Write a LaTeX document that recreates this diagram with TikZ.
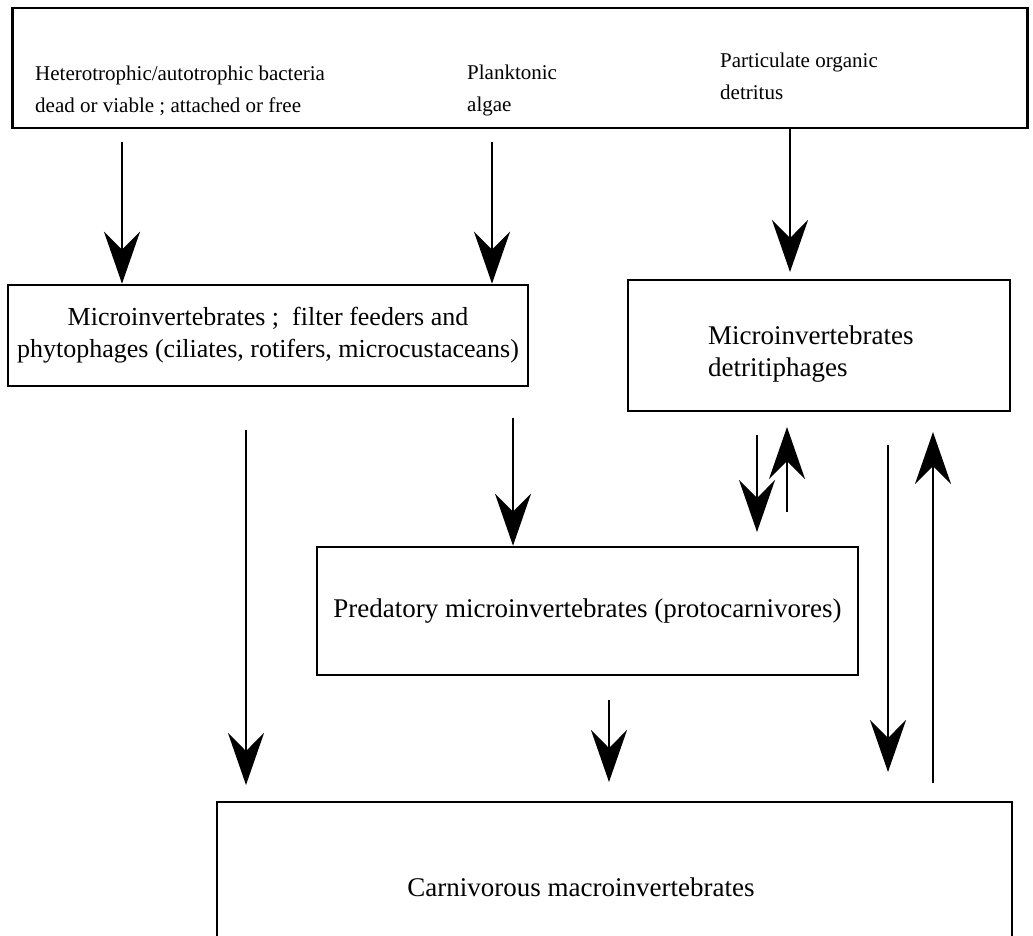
\documentclass[tikz,border=0pt]{standalone}
\usepackage{fontspec}
\setmainfont{Liberation Serif}
\usetikzlibrary{arrows.meta}

\begin{document}
\begin{tikzpicture}[
  x=1pt, y=-1pt,
  box/.style={draw, line width=2.6pt, inner sep=0pt, align=center,
    font=\fontsize{27}{32}\selectfont},
  srctext/.style={anchor=west, align=left, inner sep=0pt,
    font=\fontsize{21}{32}\selectfont},
  boxtext/.style={inner sep=0pt, align=left, font=\fontsize{27}{32}\selectfont},
  feed/.style={line width=2.6pt, -{Stealth[length=52pt, width=36pt, inset=18pt]}},
  thinfeed/.style={feed, line width=1.8pt}
]
\useasboundingbox (0,0) rectangle (1033,935);
\clip (0,0) rectangle (1033,935);

% food sources
\node[box, minimum width=1015pt, minimum height=120pt] (src) at (520,68) {};
\node[srctext] (bact) at (35,91) {Heterotrophic/autotrophic bacteria\\dead or viable ; attached or free};
\node[srctext] (algae) at (467,90) {Planktonic\\algae};
\node[srctext] (pom) at (720,76) {Particulate organic\\detritus};

% consumers
\node[box, minimum width=520pt, minimum height=101pt, font=\fontsize{26}{32}\selectfont] (filt) at (268,335.5)
  {Microinvertebrates ;\ \ filter feeders and\\phytophages (ciliates, rotifers, microcustaceans)};
\node[box, minimum width=382pt, minimum height=131pt] (detr) at (819,345.5) {};
\node[boxtext, anchor=west] (detrtext) at (708,354) {Microinvertebrates\\detritiphages};
\node[box, minimum width=541pt, minimum height=128pt] (pred) at (587.5,611)
  {Predatory microinvertebrates (protocarnivores)};
\node[box, minimum width=795pt, minimum height=250pt] (carn) at (614.5,927) {};
\node[boxtext] (carntext) at (581,887) {Carnivorous macroinvertebrates};

% free ends
\coordinate (b1) at (122,142);
\coordinate (a1) at (492,142);
\coordinate (p1) at (790,272);
\coordinate (f1) at (246,430);
\coordinate (f2) at (246,785);
\coordinate (f3) at (513,418);
\coordinate (d1) at (757,435);
\coordinate (d2) at (757,532);
\coordinate (d3) at (787,512);
\coordinate (d4) at (787,427);
\coordinate (d5) at (888,445);
\coordinate (d6) at (888,772);
\coordinate (d7) at (933,783);
\coordinate (d8) at (933,432);
\coordinate (r1) at (609,700);
\coordinate (r2) at (609,782);

\draw[feed] (b1) -- (b1 |- filt.north);
\draw[feed] (a1) -- (a1 |- filt.north);
\draw[feed] (p1 |- src.south) -- (p1);

\draw[feed] (f1) -- (f2);
\draw[feed] (f3) -- (f3 |- pred.north);
\draw[thinfeed] (d1) -- (d2);
\draw[thinfeed] (d3) -- (d4);
\draw[feed] (d5) -- (d6);
\draw[feed] (d7) -- (d8);

\draw[thinfeed] (r1) -- (r2);

\end{tikzpicture}
\end{document}
